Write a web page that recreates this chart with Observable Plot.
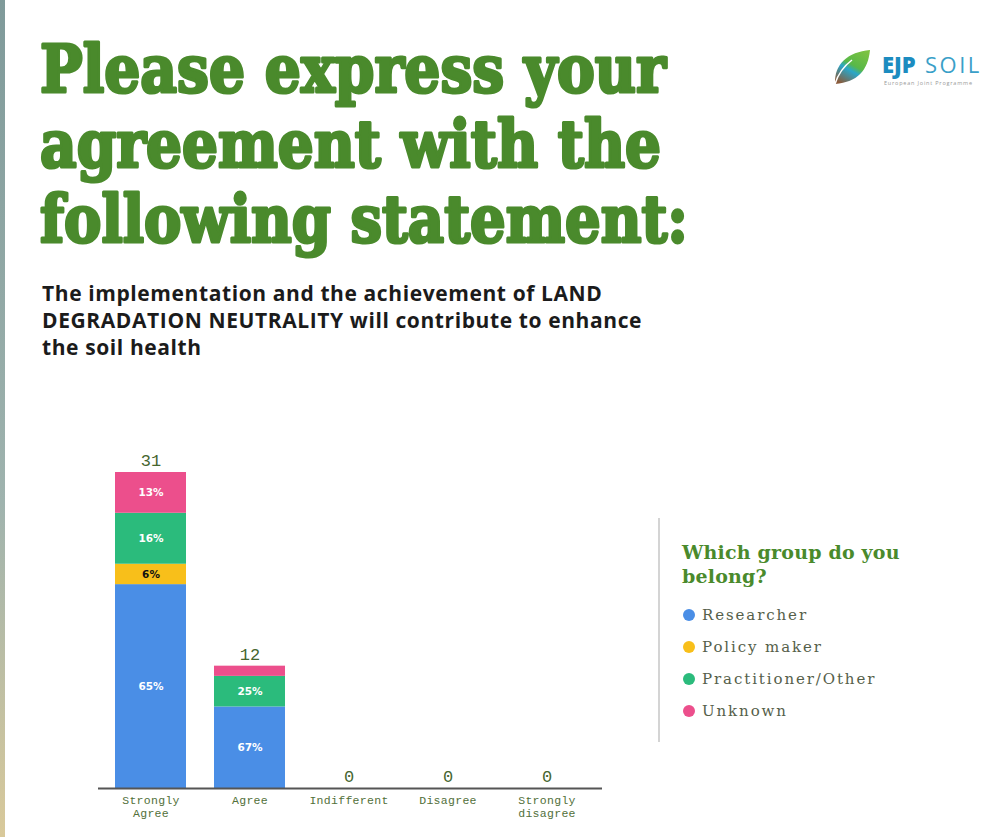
<!DOCTYPE html>
<html>
<head>
<meta charset="utf-8">
<script src="https://cdn.jsdelivr.net/npm/d3@7"></script>
<script src="https://cdn.jsdelivr.net/npm/@observablehq/plot@0.6"></script>
<style>
  html, body { margin: 0; padding: 0; background: #fff; }
  body { width: 994px; height: 837px; position: relative; overflow: hidden; }
  #strip { position: absolute; left: 0; top: 0; width: 5px; height: 837px;
    background: linear-gradient(#7f9a9a, #9fb3ae 60%, #d9c99a); }
  #title { position: absolute; left: 0; top: 0; }
  #subtitle { position: absolute; left: 42px; top: 280px; font-family: "Open Sans", sans-serif;
    font-weight: 700; font-size: 21px; line-height: 27px; color: #1b1b1b; letter-spacing: 0.6px; }
  #chart { position: absolute; left: 0; top: 440px; }
  #legend { position: absolute; left: 658px; top: 518px; width: 320px; height: 224px;
    border-left: 2px solid #d4d4d4; }
  #legend .ttl { position: absolute; left: 22px; top: 22px; font-family: "DejaVu Serif", serif;
    font-weight: 700; font-size: 19px; line-height: 24px; color: #4a8a2c; letter-spacing: 0.2px; white-space: nowrap; }
  #legend .item { position: absolute; left: 23px; font-family: "DejaVu Serif", serif; font-size: 15px;
    color: #55604a; letter-spacing: 1.9px; display: flex; align-items: center; white-space: nowrap; }
  #legend .dot { width: 12px; height: 12px; border-radius: 50%; margin-right: 7px; }
  #logo { position: absolute; left: 822px; top: 44px; }
</style>
</head>
<body>
<div id="strip"></div>
<svg id="title" width="994" height="270"></svg>
<div id="subtitle">The implementation and the achievement of LAND<br>DEGRADATION NEUTRALITY will contribute to enhance<br>the soil health</div>
<svg id="logo" width="172" height="56">
  <defs>
    <linearGradient id="lg1" x1="0.8" y1="0" x2="0.2" y2="1">
      <stop offset="0" stop-color="#7cc242"/><stop offset="0.45" stop-color="#58b848"/><stop offset="0.6" stop-color="#2aa7c9"/><stop offset="1" stop-color="#8a5a3a"/>
    </linearGradient>
  </defs>
  <path d="M13,40 C12,20 26,8 48,6 C46,26 36,38 13,40 Z" fill="url(#lg1)"/>
  <path d="M13,40 C16,30 22,22 30,16" stroke="#fff" stroke-width="1.5" fill="none"/>
  <text x="60" y="29" font-family="Open Sans, sans-serif" font-weight="800" font-size="22" fill="#1c8cc0">EJP</text>
  <text x="103" y="29" font-family="Open Sans, sans-serif" font-weight="400" font-size="22" letter-spacing="2.5" fill="#3a9fc8">SOIL</text>
  <text x="62" y="41" font-family="Open Sans, sans-serif" font-size="5.5" fill="#999" letter-spacing="0.8">European Joint Programme</text>
</svg>
<div id="chart"></div>
<div id="legend"></div>
<script>
// ---- data ----
const categories = ["Strongly Agree", "Agree", "Indifferent", "Disagree", "Strongly disagree"];
const tickLabels = ["Strongly\nAgree", "Agree", "Indifferent", "Disagree", "Strongly\ndisagree"];
const groups = ["Researcher", "Policy maker", "Practitioner/Other", "Unknown"];
const groupColors = ["#4a8ee6", "#f8bf1a", "#2bbb7c", "#ec4f8c"];
const researcher   = [20, 8, 0, 0, 0];
const policyMaker  = [2, 0, 0, 0, 0];
const practitioner = [5, 3, 0, 0, 0];
const unknown      = [4, 1, 0, 0, 0];
const titleLines = ["Please express your", "agreement with the", "following statement:"];
const legendTitle = "Which group do you\nbelong?";

// ---- title ----
const tsvg = d3.select("#title");
const titleWidths = [626, 621, 648];
const titleBaselines = [92, 167, 242];
titleLines.forEach((t, i) => {
  tsvg.append("text").attr("x", 40).attr("y", titleBaselines[i])
    .attr("font-family", "DejaVu Serif, serif").attr("font-weight", 700)
    .attr("font-size", 66).attr("fill", "#4a8a2c")
    .attr("stroke", "#4a8a2c").attr("stroke-width", 3.2).attr("stroke-linejoin", "round")
    .attr("textLength", titleWidths[i]).attr("lengthAdjust", "spacingAndGlyphs")
    .text(t);
});

// ---- table ----
const series = [researcher, policyMaker, practitioner, unknown];
const rows = [];
categories.forEach((c, ci) => {
  const total = series.reduce((s, arr) => s + arr[ci], 0);
  groups.forEach((g, gi) => {
    const v = series[gi][ci];
    rows.push({cat: c, group: g, value: v, total,
      pct: total ? Math.round(v / total * 100) + "%" : ""});
  });
});
const totals = categories.map((c, ci) => ({cat: c, total: series.reduce((s, arr) => s + arr[ci], 0)}));

const chart = Plot.plot({
  width: 640,
  height: 398,
  marginLeft: 98,
  marginRight: 38,
  marginTop: 32,
  marginBottom: 50,
  style: {background: "transparent", overflow: "visible"},
  x: {domain: categories, range: [100, 597], paddingInner: 0.283, paddingOuter: 0.15, label: null},
  y: {domain: [0, 31], axis: null},
  color: {domain: groups, range: groupColors},
  marks: [
    Plot.barY(rows, {x: "cat", y: "value", fill: "group", order: groups}),
    Plot.text(rows, Plot.stackY({
      x: "cat", y: "value", order: groups,
      text: (d) => (d.value >= 2 ? d.pct : ""),
      fill: (d) => d.group === "Policy maker" ? "#111" : "#fff",
      fontFamily: "DejaVu Sans, sans-serif", fontWeight: 700, fontSize: 10.5, letterSpacing: -0.3
    })),
    Plot.text(totals, {x: "cat", y: "total", text: (d) => String(d.total), dy: -12,
      fontFamily: "Liberation Mono, monospace", fontSize: 17, fill: "#46662f"}),
    Plot.ruleY([0], {stroke: "#555", strokeWidth: 2}),
    Plot.axisX({tickSize: 0, tickPadding: 7, lineHeight: 1.1,
      tickFormat: (d) => tickLabels[categories.indexOf(d)],
      fontFamily: "Liberation Mono, monospace", fontSize: 11.5, fill: "#52703a", label: null})
  ]
});
document.getElementById("chart").appendChild(chart);
d3.select(chart).selectAll("g[aria-label='x-axis tick label']").attr("letter-spacing", 0.3);

// ---- legend ----
const legend = d3.select("#legend");
legend.append("div").attr("class", "ttl").html(legendTitle.replace("\n", "<br>"));
groups.forEach((g, i) => {
  const it = legend.append("div").attr("class", "item").style("top", (88 + i * 32) + "px");
  it.append("div").attr("class", "dot").style("background", groupColors[i]);
  it.append("span").text(g);
});
</script>
</body>
</html>
